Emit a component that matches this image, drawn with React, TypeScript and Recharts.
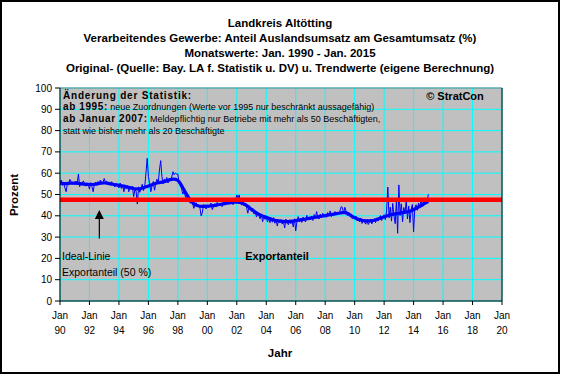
import React from 'react';
import { ComposedChart, Line, XAxis, YAxis, CartesianGrid, ReferenceLine } from 'recharts';

// Monthly values Jan 1990 .. Jan 2015 (Anteil Auslandsumsatz, %)
const originalValues: number[] = [
  55.5, 56.8, 54.2, 55.9, 53.1, 51.3, 55.0, 54.4, 57.1, 56.2, 54.8, 55.6,
  54.6, 56.3, 55.1, 59.6, 53.7, 55.8, 54.9, 56.4, 55.2, 53.9, 55.5, 54.7,
  52.5, 55.6, 53.8, 51.3, 54.9, 55.8, 54.3, 56.1, 55.4, 56.8, 54.9, 55.7,
  57.5, 55.8, 56.3, 54.6, 55.9, 54.8, 56.0, 55.1, 53.9, 53.7, 55.2, 54.3,
  53.1, 55.4, 52.8, 54.6, 51.3, 53.9, 52.7, 54.2, 51.3, 53.5, 52.4, 53.8,
  49.0, 52.3, 51.5, 45.5, 53.6, 51.0, 52.9, 54.8, 51.8, 53.7, 60.0, 67.0,
  58.5, 55.0, 51.3, 54.2, 56.1, 52.0, 55.3, 57.2, 55.1, 61.5, 65.9, 58.5,
  55.0, 57.3, 56.2, 58.0, 55.4, 57.6, 56.8, 58.2, 60.7, 59.3, 60.1, 59.6,
  59.6, 55.0, 54.1, 52.8, 50.2, 51.4, 49.3, 47.9, 48.6, 47.1, 45.9, 46.4,
  45.9, 43.5, 44.8, 46.1, 44.2, 45.0, 43.6, 39.9, 41.8, 45.3, 44.0, 43.2,
  45.0, 43.8, 44.9, 46.0, 42.9, 44.3, 45.6, 44.1, 46.3, 44.7, 45.8, 44.9,
  44.3, 46.2, 45.1, 47.0, 45.8, 46.9, 45.5, 47.3, 46.0, 45.2, 46.8, 47.5,
  49.8, 48.4, 49.8, 46.1, 45.0, 46.3, 44.6, 45.7, 43.9, 41.2, 44.5, 43.0,
  42.1, 43.6, 40.8, 41.9, 39.5, 41.4, 40.0, 38.6, 40.9, 37.2, 39.8, 38.3,
  39.5, 37.1, 38.9, 36.8, 38.4, 37.0, 39.1, 36.5, 38.0, 35.2, 37.9, 36.9,
  38.2, 36.1, 37.4, 34.3, 38.5, 36.9, 35.8, 38.1, 36.3, 37.5, 34.8, 38.6,
  32.9, 37.5, 39.6, 37.2, 38.8, 36.9, 39.4, 38.0, 37.1, 40.2, 38.3, 39.0,
  38.1, 39.9, 37.8, 40.6, 38.9, 42.0, 39.2, 38.5, 40.8, 39.1, 41.2, 39.5,
  40.7, 39.3, 41.5, 40.0, 42.3, 39.6, 41.1, 40.2, 42.0, 40.5, 41.8, 40.9,
  42.1, 44.3, 43.9, 41.0, 44.0, 42.2, 40.1, 41.4, 39.8, 40.9, 38.7, 40.0,
  38.5, 39.9, 37.6, 38.8, 37.1, 39.0, 36.4, 38.3, 37.0, 36.1, 38.2, 35.9,
  37.0, 38.4, 36.2, 37.9, 38.6, 36.8, 39.0, 37.5, 38.9, 40.1, 37.8, 39.6,
  40.5, 38.2, 42.3, 53.5, 39.0, 44.1, 37.5, 45.8, 40.2, 36.3, 47.0, 31.8,
  54.5, 40.1, 45.6, 37.2, 43.9, 41.0, 47.2, 38.5, 44.6, 36.8, 42.9, 45.3,
  32.5, 43.8, 45.2, 42.6, 46.0, 44.3, 47.1, 45.0, 46.8, 45.4, 47.3, 46.2,
  50.2,
];

const trendValues: number[] = [
  55.2, 55.2, 55.2, 55.1, 55.1, 55.1, 55.2, 55.2, 55.3, 55.3, 55.3, 55.3,
  55.3, 55.3, 55.2, 55.2, 55.1, 55.0, 55.0, 54.9, 54.9, 54.8, 54.8, 54.8,
  54.7, 54.7, 54.7, 54.7, 54.8, 54.9, 55.0, 55.1, 55.2, 55.3, 55.3, 55.4,
  55.4, 55.4, 55.3, 55.2, 55.1, 55.0, 54.9, 54.8, 54.7, 54.6, 54.5, 54.4,
  54.3, 54.2, 54.1, 54.0, 53.9, 53.8, 53.6, 53.5, 53.4, 53.2, 53.1, 53.0,
  52.8, 52.7, 52.6, 52.6, 52.6, 52.7, 52.8, 53.0, 53.2, 53.4, 53.6, 53.8,
  54.0, 54.2, 54.4, 54.6, 54.8, 55.0, 55.2, 55.4, 55.5, 55.6, 55.7, 55.8,
  55.9, 56.0, 56.2, 56.4, 56.6, 56.8, 57.0, 57.1, 57.2, 57.2, 57.1, 56.9,
  56.6, 56.0, 55.2, 54.2, 53.2, 52.2, 51.2, 50.2, 49.2, 48.3, 47.5, 46.8,
  46.2, 45.7, 45.3, 45.0, 44.8, 44.6, 44.5, 44.4, 44.4, 44.4, 44.4, 44.5,
  44.5, 44.5, 44.6, 44.6, 44.7, 44.8, 44.9, 45.0, 45.1, 45.2, 45.3, 45.4,
  45.5, 45.6, 45.7, 45.8, 45.9, 46.0, 46.1, 46.2, 46.3, 46.3, 46.4, 46.4,
  46.4, 46.4, 46.3, 46.2, 46.0, 45.8, 45.5, 45.2, 44.8, 44.4, 44.0, 43.5,
  43.0, 42.6, 42.2, 41.8, 41.4, 41.0, 40.7, 40.4, 40.1, 39.9, 39.7, 39.5,
  39.3, 39.1, 38.9, 38.7, 38.5, 38.3, 38.1, 37.9, 37.8, 37.7, 37.6, 37.5,
  37.5, 37.4, 37.4, 37.3, 37.3, 37.3, 37.3, 37.4, 37.4, 37.5, 37.5, 37.6,
  37.7, 37.8, 37.9, 38.0, 38.1, 38.2, 38.3, 38.4, 38.5, 38.6, 38.7, 38.8,
  38.9, 39.0, 39.1, 39.2, 39.3, 39.4, 39.5, 39.6, 39.7, 39.8, 39.9, 40.0,
  40.1, 40.2, 40.3, 40.4, 40.5, 40.6, 40.7, 40.8, 40.9, 41.0, 41.1, 41.2,
  41.3, 41.4, 41.5, 41.5, 41.5, 41.4, 41.2, 40.9, 40.5, 40.1, 39.7, 39.4,
  39.1, 38.8, 38.6, 38.4, 38.2, 38.0, 37.9, 37.8, 37.7, 37.6, 37.6, 37.6,
  37.6, 37.6, 37.7, 37.8, 37.9, 38.1, 38.3, 38.5, 38.7, 38.9, 39.1, 39.3,
  39.5, 39.7, 39.9, 40.1, 40.3, 40.5, 40.6, 40.7, 40.8, 40.9, 41.0, 41.1,
  41.2, 41.3, 41.4, 41.5, 41.6, 41.7, 41.8, 41.9, 42.0, 42.2, 42.4, 42.6,
  42.9, 43.2, 43.5, 43.8, 44.1, 44.4, 44.7, 45.0, 45.4, 45.8, 46.1, 46.4,
  46.7,
];

const startYear = 1990;
const xTicks = [1990, 1992, 1994, 1996, 1998, 2000, 2002, 2004, 2006, 2008, 2010, 2012, 2014, 2016, 2018, 2020];
const yTicks = [0, 10, 20, 30, 40, 50, 60, 70, 80, 90, 100];
const idealLineValue = 47.5;
const arrowX = 1992.67;
const arrowFrom = 29.4;
const arrowTo = 42.7;

const titleLines = [
  'Landkreis Altötting',
  'Verarbeitendes Gewerbe: Anteil Auslandsumsatz am Gesamtumsatz (%)',
  'Monatswerte: Jan. 1990 - Jan. 2015',
  'Original- (Quelle: Bay. LA f. Statistik u. DV) u. Trendwerte (eigene Berechnung)',
];

const data = originalValues.map((v, i) => ({
  t: startYear + i / 12,
  original: v,
  trend: trendValues[i],
}));

const FONT = '"Liberation Sans", Arial, sans-serif';

const XTick = (props: any) => {
  const { x, y, payload } = props;
  const yy = String(payload.value % 100).padStart(2, '0');
  return (
    <g>
      <text x={x} y={y + 12} textAnchor="middle" fontSize={10} fontFamily={FONT} fill="#000">Jan</text>
      <text x={x} y={y + 27} textAnchor="middle" fontSize={10} fontFamily={FONT} fill="#000">{yy}</text>
    </g>
  );
};

const ArrowShape = (props: any) => {
  const { x1, y1, y2 } = props;
  const top = Math.min(y1, y2);
  const bottom = Math.max(y1, y2);
  const x = x1;
  return (
    <g>
      <line x1={x} y1={bottom} x2={x} y2={top + 8} stroke="#000" strokeWidth={1.2} />
      <polygon points={`${x - 4.5},${top + 9} ${x + 4.5},${top + 9} ${x},${top}`} fill="#000" />
    </g>
  );
};

export default function App() {
  return (
    <div style={{ position: 'absolute', left: 0, top: 0, width: 561, height: 375, background: '#fff' }}>
      <ComposedChart
        width={561}
        height={375}
        data={data}
        margin={{ top: 88, right: 14, bottom: 24, left: 15 }}
      >
        <CartesianGrid
          yAxisId="left"
          stroke="#00FFFF"
          strokeWidth={1}
          fill="#C0C0C0"
          fillOpacity={1}
        />
        <XAxis
          dataKey="t"
          type="number"
          domain={[1990, 2020]}
          ticks={xTicks}
          interval={0}
          tick={<XTick />}
          tickSize={4}
          tickMargin={2}
          height={50}
          axisLine={{ stroke: '#000' }}
          tickLine={{ stroke: '#000' }}
          allowDataOverflow
        />
        <YAxis
          yAxisId="left"
          orientation="left"
          domain={[0, 100]}
          ticks={yTicks}
          interval={0}
          width={45}
          tickSize={5}
          tickMargin={3}
          axisLine={{ stroke: '#000' }}
          tickLine={{ stroke: '#000' }}
          tick={{ fontSize: 10, fontFamily: FONT, fill: '#000' }}
        />
        <YAxis
          yAxisId="right"
          orientation="right"
          domain={[0, 100]}
          ticks={yTicks}
          interval={0}
          width={45}
          tickSize={4}
          tickMargin={8}
          axisLine={{ stroke: '#000' }}
          tickLine={{ stroke: '#000' }}
          tick={{ fontSize: 10, fontFamily: FONT, fill: '#000' }}
        />
        <ReferenceLine yAxisId="left" y={100} stroke="#808080" strokeWidth={1} />
        <Line
          yAxisId="left"
          dataKey="original"
          type="linear"
          stroke="#0000FF"
          strokeWidth={1}
          dot={false}
          isAnimationActive={false}
        />
        <Line
          yAxisId="left"
          dataKey="trend"
          type="linear"
          stroke="#0000FF"
          strokeWidth={3.2}
          dot={false}
          isAnimationActive={false}
        />
        <ReferenceLine yAxisId="left" y={idealLineValue} stroke="#FF0000" strokeWidth={4.5} />
        <ReferenceLine
          yAxisId="left"
          segment={[{ x: arrowX, y: arrowFrom }, { x: arrowX, y: arrowTo }]}
          shape={<ArrowShape />}
        />
      </ComposedChart>
      <svg
        width={561}
        height={375}
        style={{ position: 'absolute', left: 0, top: 0, pointerEvents: 'none' }}
        fontFamily={FONT}
      >
        <rect x={1} y={1} width={558} height={372} fill="none" stroke="#000" strokeWidth={2} />
        {titleLines.map((t, i) => (
          <text key={i} x={280} y={27 + i * 15} textAnchor="middle" fontSize={11.5} fontWeight="bold" fill="#000">
            {t}
          </text>
        ))}
        <text x={63} y={98.5} fontSize={10} fontWeight="bold" letterSpacing={0.8} fill="#000">Änderung der Statistik:</text>
        <text x={63} y={110} fontSize={9} fill="#000">
          <tspan fontWeight="bold" fontSize={10} letterSpacing={0.6}>ab 1995:</tspan>
          <tspan> neue Zuordnungen (Werte vor 1995 nur beschränkt aussagefähig)</tspan>
        </text>
        <text x={63} y={122} fontSize={9} fill="#000">
          <tspan fontWeight="bold" fontSize={10} letterSpacing={0.6}>ab Januar 2007:</tspan>
          <tspan> Meldepflichtig nur Betriebe mit mehr als 50 Beschäftigten,</tspan>
        </text>
        <text x={63} y={134} fontSize={9} fill="#000">statt wie bisher mehr als  20 Beschäftigte</text>
        <text x={455} y={100} textAnchor="middle" fontSize={11} fontWeight="bold" fill="#000">© StratCon</text>
        <text x={62} y={260} fontSize={10.5} fill="#000">Ideal-Linie</text>
        <text x={62} y={275.5} fontSize={10.5} fill="#000">Exportanteil (50 %)</text>
        <text x={277} y={260} textAnchor="middle" fontSize={11} fontWeight="bold" fill="#000">Exportanteil</text>
        <text x={280} y={357} textAnchor="middle" fontSize={11.5} fontWeight="bold" fill="#000">Jahr</text>
        <text
          x={18}
          y={195}
          textAnchor="middle"
          fontSize={11.5}
          fontWeight="bold"
          fill="#000"
          transform="rotate(-90 18 195)"
        >
          Prozent
        </text>
      </svg>
    </div>
  );
}
